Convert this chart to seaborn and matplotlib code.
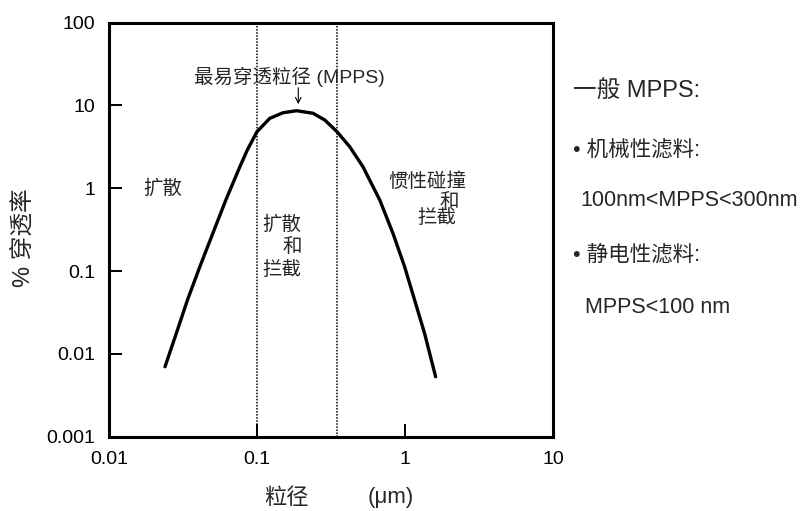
import numpy as np
import pandas as pd
import seaborn as sns
import matplotlib.pyplot as plt
from matplotlib.ticker import NullLocator

# penetration curve (particle size in um, penetration in %)
size_um = [0.0239, 0.0285, 0.0339, 0.0411, 0.0503, 0.0616, 0.0766, 0.086, 0.1,
           0.122, 0.15, 0.185, 0.239, 0.287, 0.347, 0.423, 0.52, 0.675,
           0.829, 0.994, 1.161, 1.356, 1.61]
penetration = [0.0070, 0.0177, 0.0448, 0.113, 0.286, 0.723, 1.82, 2.9, 4.83,
               7.0, 8.18, 8.65, 8.06, 6.68, 4.83, 3.18, 1.82, 0.723,
               0.286, 0.113, 0.0448, 0.0177, 0.0053]

# region boundaries (dotted lines)
boundaries = [0.1, 0.347]

x_ticks = [0.01, 0.1, 1, 10]
x_tick_labels = ['0.01', '0.1', '1', '10']
y_ticks = [0.001, 0.01, 0.1, 1, 10, 100]
y_tick_labels = ['0.001', '0.01', '0.1', '1', '10', '100']

side_notes = ['一般 MPPS:', '• 机械性滤料:', '100nm<MPPS<300nm', '• 静电性滤料:', 'MPPS<100 nm']

df = pd.DataFrame({'size': size_um, 'pen': penetration})

sns.set_style('white')
plt.rcParams['font.family'] = ['Liberation Sans', 'Noto Sans CJK SC', 'DejaVu Sans']

W, H = 803, 511
fig = plt.figure(figsize=(W / 100, H / 100), dpi=100)
ax = fig.add_axes([109 / W, 1 - 436.7 / H, (553 - 109) / W, (436.7 - 22.7) / H])

sns.lineplot(data=df, x='size', y='pen', ax=ax, color='black', linewidth=2.4,
             sort=False, estimator=None)
for b in boundaries:
    ax.axvline(b, color='black', linestyle=(0, (1, 1)), linewidth=1.1)

ax.set_xscale('log')
ax.set_yscale('log')
ax.set_xlim(0.01, 10)
ax.set_ylim(0.001, 100)
ax.set_xticks(x_ticks)
ax.set_xticklabels(x_tick_labels)
ax.set_yticks(y_ticks)
ax.set_yticklabels(y_tick_labels)
ax.xaxis.set_minor_locator(NullLocator())
ax.yaxis.set_minor_locator(NullLocator())
ax.tick_params(direction='in', length=9.5, width=1.4, labelsize=14, pad=10,
               colors='black', bottom=True, left=True, top=False, right=False)
ax.set_xlabel('')
ax.set_ylabel('')
for s in ax.spines.values():
    s.set_linewidth(2.2)
    s.set_color('black')

# annotations inside the plot
ax.text(0.166, 22, '最易穿透粒径 (MPPS)', ha='center', va='center', fontsize=14)
ax.annotate('', xy=(0.19, 9.6), xytext=(0.19, 17.7),
            arrowprops=dict(arrowstyle='->', lw=0.8, color='black'))
ax.text(0.017, 1.0, '扩散', ha='left', va='center', fontsize=14)
ax.text(0.2, 0.36, '扩散', ha='right', va='center', fontsize=14)
ax.text(0.2, 0.195, '和', ha='right', va='center', fontsize=14)
ax.text(0.2, 0.103, '拦截', ha='right', va='center', fontsize=14)
ax.text(0.775, 1.19, '惯性碰撞', ha='left', va='center', fontsize=14)
ax.text(1.71, 0.684, '和', ha='left', va='center', fontsize=14)
ax.text(1.216, 0.438, '拦截', ha='left', va='center', fontsize=14)

# axis titles
fig.text(23.5 / W, 1 - 238 / H, '% 穿透率', rotation=90, ha='center', va='center', fontsize=17)
fig.text(286.5 / W, 1 - 498 / H, '粒径', ha='center', va='center', fontsize=16)
fig.text(391 / W, 1 - 498 / H, '(μm)', ha='center', va='center', fontsize=16)

# notes on the right
note_pos = [(573, 92, 17), (573, 150, 15.5), (580, 200, 15.5), (573, 255, 15.5), (585, 307, 15.5)]
for txt, (px, py, fs) in zip(side_notes, note_pos):
    fig.text(px / W, 1 - py / H, txt, ha='left', va='center', fontsize=fs)

fig.savefig('out.png', dpi=100)
